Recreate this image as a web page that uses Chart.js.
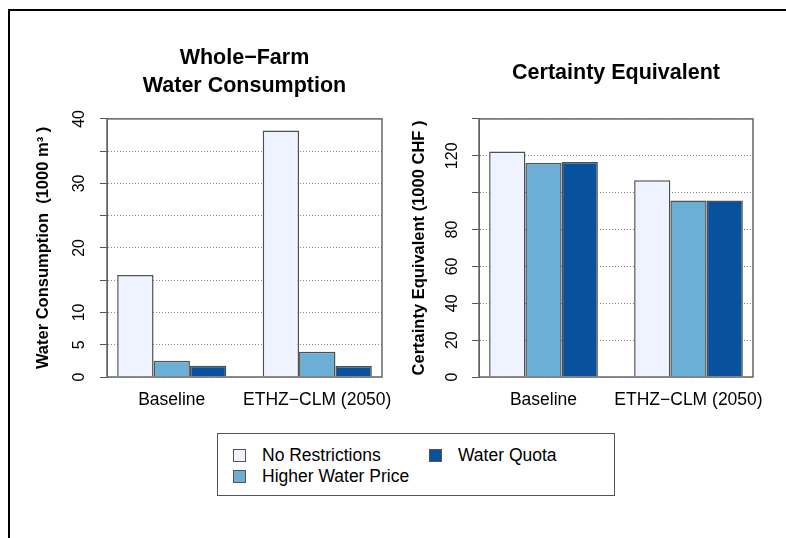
<!DOCTYPE html>
<html>
<head>
<meta charset="utf-8">
<script src="https://cdn.jsdelivr.net/npm/chart.js@4.4.1/dist/chart.umd.min.js"></script>
<style>
  body { margin: 0; width: 786px; height: 538px; overflow: hidden; background: #fff; font-family: 'Liberation Sans', Arial, sans-serif; }
  .outer { position: absolute; left: 8px; top: 9px; width: 800px; height: 560px; border-top: 2px solid #000; border-left: 2px solid #000; }
  canvas { position: absolute; top: 0; }
  #legend { position: absolute; left: 217px; top: 433px; width: 398px; height: 63px; box-sizing: border-box; border: 1px solid #555; }
  .item { position: absolute; font-size: 17.5px; line-height: 20px; color: #000; white-space: nowrap; }
  .item span { position: absolute; width: 11px; height: 11px; border: 1px solid #555; }
</style>
</head>
<body>
<div class="outer"></div>
<canvas id="water" width="395" height="420" style="left:0px"></canvas>
<canvas id="ce" width="391" height="420" style="left:395px"></canvas>
<div id="legend"></div>
<script>
// categories and series
const categories = ['Baseline', 'ETHZ\u2212CLM (2050)'];
const seriesNames = ['No Restrictions', 'Higher Water Price', 'Water Quota'];

// Whole-farm water consumption (1000 m3)
const waterNoRestrictions = [15.8, 38.2];
const waterHigherPrice = [2.5, 3.9];
const waterQuota = [1.75, 1.7];

// Certainty equivalent (1000 CHF)
const ceNoRestrictions = [122.4, 106.7];
const ceHigherPrice = [116.1, 95.7];
const ceQuota = [116.6, 95.7];

// labelled y ticks (others get only a tick mark)
const waterTickLabels = [0, 5, 10, 20, 30, 40];
const ceTickLabels = [0, 20, 40, 60, 80, 120];

const colors = ['#EFF3FF', '#6BAED6', '#08519C'];
const FONT = "'Liberation Sans', Arial, sans-serif";

// R barplot(beside=TRUE) layout: 1 unit gap before each group of 3 bars
const nS = seriesNames.length;
const lastX = categories.length * (nS + 1);
const xMin = 1 - 0.04 * (lastX - 1);
const xMax = lastX + 0.04 * (lastX - 1);
const groupCenter = i => 1 + i * (nS + 1) + nS / 2;

const frame = {
    id: 'frame',
    afterDatasetsDraw(chart) {
        const { ctx, chartArea: a } = chart;
        ctx.save();
        ctx.strokeStyle = '#666';
        ctx.lineWidth = 1.5;
        ctx.strokeRect(a.left, a.top, a.width, a.height);
        ctx.restore();
    }
};

function makeChart(id, series, yMax, step, tickLabels, yTitle, title, opts) {
    const datasets = series.map((vals, s) => ({
        label: seriesNames[s],
        data: vals.map((v, i) => ({ x: groupCenter(i), y: v })),
        backgroundColor: colors[s],
        borderColor: '#505050',
        borderWidth: 1.5,
        categoryPercentage: nS / (nS + 1),
        barPercentage: 1
    }));
    return new Chart(document.getElementById(id), {
        type: 'bar',
        data: { datasets },
        plugins: [frame],
        options: {
            responsive: false,
            animation: false,
            devicePixelRatio: 1,
            layout: { padding: { left: 0, right: opts.padRight, top: 0, bottom: 0 } },
            plugins: {
                legend: { display: false },
                tooltip: { enabled: false },
                title: {
                    display: true, fullSize: false, text: title, color: '#000',
                    font: { family: FONT, size: 21.5, weight: 'bold', lineHeight: 1.3 },
                    padding: opts.titlePad
                }
            },
            scales: {
                x: {
                    type: 'linear', min: xMin, max: xMax, bounds: 'data', offset: false,
                    afterBuildTicks: s => { s.ticks = categories.map((_, i) => ({ value: groupCenter(i) })); },
                    ticks: { autoSkip: false, maxRotation: 0, padding: 13, color: '#000',
                             font: { family: FONT, size: 17.5 },
                             callback: (v, i) => categories[i] },
                    grid: { display: false, drawTicks: false, offset: false },
                    border: { display: false },
                    // labels may run past the plot box, as in R
                    afterFit: s => { s.height = 43; s.paddingLeft = 0; s.paddingRight = 0; }
                },
                y: {
                    min: 0, max: yMax,
                    ticks: { stepSize: step, autoSkip: false, minRotation: 90, maxRotation: 90,
                             crossAlign: 'center', padding: opts.tickPad, color: '#000',
                             font: { family: FONT, size: 16 },
                             callback: v => tickLabels.includes(v) ? String(v) : '' },
                    grid: { color: '#8a8a8a', lineWidth: 1, tickColor: '#555', tickLength: 7,
                            tickWidth: 1, tickBorderDash: [] },
                    border: { display: true, color: '#555', dash: [1, 2] },
                    title: { display: true, text: yTitle, color: '#000',
                             font: { family: FONT, size: 16.5, weight: 'bold' },
                             padding: { top: opts.yTitlePad, bottom: 0 } },
                    afterFit: s => { s.width = opts.yWidth; }
                }
            }
        }
    });
}

makeChart('water', [waterNoRestrictions, waterHigherPrice, waterQuota], 40, 5, waterTickLabels,
    'Water Consumption  (1000 m\u00B3 )', ['Whole\u2212Farm', 'Water Consumption'],
    { padRight: 13, yWidth: 107, tickPad: 11.6, yTitlePad: 33.6, titlePad: { top: 44, bottom: 19 } });

makeChart('ce', [ceNoRestrictions, ceHigherPrice, ceQuota], 140, 20, ceTickLabels,
    'Certainty Equivalent (1000 CHF )', 'Certainty Equivalent',
    { padRight: 33, yWidth: 84, tickPad: 5.7, yTitlePad: 14.6, titlePad: { top: 59, bottom: 32 } });

// shared legend, two columns filled column-wise like R
const legendPos = [[15, 11], [15, 32], [211, 11]];
document.getElementById('legend').innerHTML = seriesNames.map((name, s) => `
    <div class="item" style="left:${legendPos[s][0]}px; top:${legendPos[s][1]}px">
        <span style="left:0; top:4px; background:${colors[s]}"></span>
        <div style="position:absolute; left:29px; top:0">${name}</div>
    </div>
`).join('');
</script>
</body>
</html>
